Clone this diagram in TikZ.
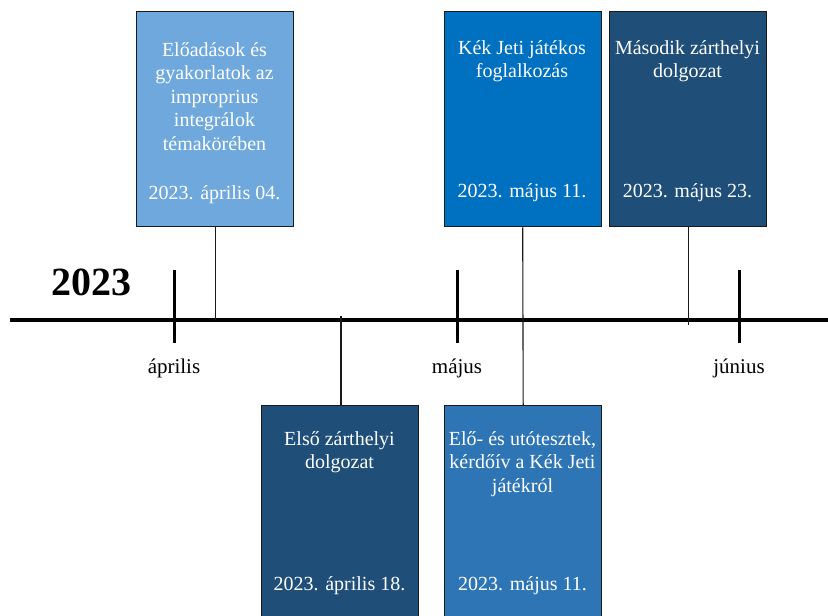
\documentclass[tikz,border=0pt]{standalone}
\usepackage{fontspec}
\setmainfont{Liberation Serif}
\definecolor{cLight}{HTML}{6FA8DC}
\definecolor{cMid}{HTML}{0070C0}
\definecolor{cDark}{HTML}{1F4E79}
\definecolor{cSteel}{HTML}{2E75B6}
\definecolor{cEdge}{HTML}{1A1A1A}
\begin{document}
\begin{tikzpicture}[x=1pt,y=-1pt,
  evbox/.style={draw=cEdge, line width=1.4pt, anchor=north west, minimum width=157pt, minimum height=215pt, inner sep=0pt},
  evtxt/.style={text=white, align=center, anchor=north, inner sep=0pt, font=\fontsize{20}{23.5}\selectfont},
  evdate/.style={text=white, anchor=base, inner sep=0pt, font=\fontsize{20}{23.5}\selectfont},
  monthlbl/.style={anchor=base, inner sep=0pt, font=\fontsize{21}{24}\selectfont},
  tickln/.style={line width=3pt},
  conn/.style={line width=1.1pt, draw=cEdge},
]
\useasboundingbox (0,0) rectangle (828,616);
\fill[white] (0,0) rectangle (828,616);

% axis
\coordinate (axL) at (10,320);
\coordinate (axR) at (830,320);
\draw[line width=4.5pt] (axL) -- (axR);

% ticks
\coordinate (tA1) at (174,270); \coordinate (tA2) at (174,343);
\coordinate (tM1) at (457,270); \coordinate (tM2) at (457,343);
\coordinate (tJ1) at (739,270); \coordinate (tJ2) at (739,343);
\draw[tickln] (tA1) -- (tA2);
\draw[tickln] (tM1) -- (tM2);
\draw[tickln] (tJ1) -- (tJ2);

\node[monthlbl] (mA) at (174,373) {április};
\node[monthlbl] (mM) at (457,373) {május};
\node[monthlbl] (mJ) at (739,373) {június};

\node[inner sep=0pt, font=\fontsize{40}{44}\selectfont\bfseries] (yr) at (91,282) {2023};

% boxes
\node[evbox, fill=cLight] (b1) at (136,11) {};
\node[evbox, fill=cMid] (b2) at (443.5,11) {};
\node[evbox, fill=cDark] (b3) at (609,11) {};
\node[evbox, fill=cDark, minimum height=220pt] (b4) at (261,405) {};
\node[evbox, fill=cSteel, minimum height=220pt] (b5) at (444,405) {};

% texts
\node[evtxt] (b1t) at (214.5,42) {Előadások és\\gyakorlatok az\\improprius\\integrálok\\témakörében};
\node[evdate] (b1d) at (214.5,199) {2023. április 04.};
\node[evtxt] (b2t) at (522,40) {Kék Jeti játékos\\foglalkozás};
\node[evdate] (b2d) at (522,197) {2023. május 11.};
\node[evtxt] (b3t) at (687.5,40) {Második zárthelyi\\dolgozat};
\node[evdate] (b3d) at (687.5,197) {2023. május 23.};
\node[evtxt] (b4t) at (339.5,431) {Első zárthelyi\\dolgozat};
\node[evdate] (b4d) at (339.5,590) {2023. április 18.};
\node[evtxt] (b5t) at (522.5,431) {Elő- és utótesztek,\\kérdőív a Kék Jeti\\játékról};
\node[evdate] (b5d) at (522.5,590) {2023. május 11.};

% connectors
\coordinate (k4) at (341,316);
\coordinate (k3) at (688,325);
\draw[conn] (b1.south) -- (b1.south |- axL);
\draw[conn] (b2.south) -- (b5.north);
\draw[conn] (b3.south) -- (b3.south |- k3);
\draw[conn] (k4) -- (k4 |- b4.north);
\end{tikzpicture}
\end{document}
